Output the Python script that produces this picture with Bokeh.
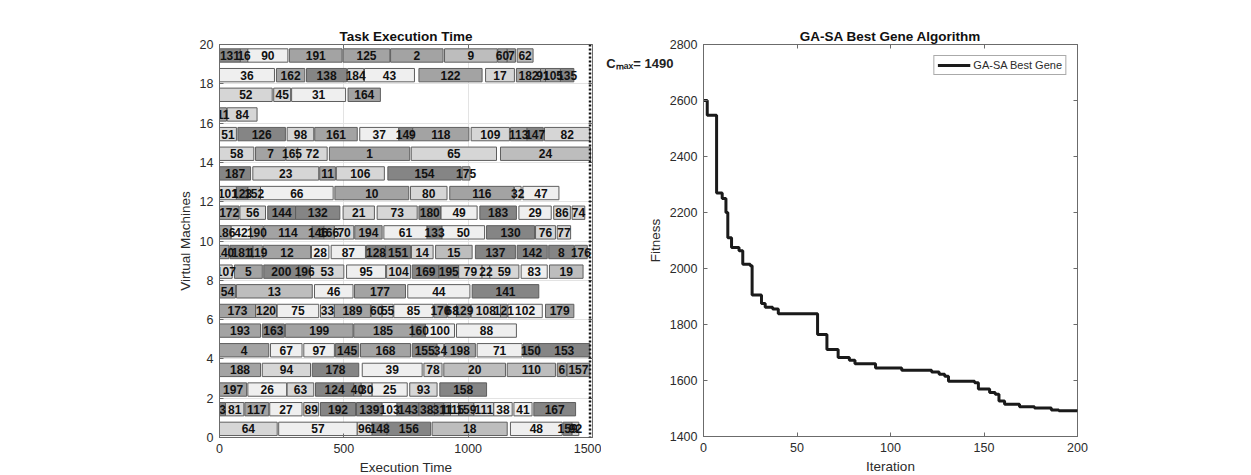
from bokeh.plotting import figure
from bokeh.layouts import row
from bokeh.models import (ColumnDataSource, Span, LinearAxis, Legend, LegendItem,
                          FixedTicker, Range1d)
from bokeh.embed import file_html
from bokeh.resources import INLINE
from bokeh.core.properties import value

FONT = "Liberation Sans"

# ---- Gantt data: (task label, start, end, load class) per virtual machine (VM 1 = bottom row)
vm01 = [("64", 0, 232, 2), ("57", 238, 554, 1), ("96", 554, 614, 2), ("148", 614, 674, 5), ("156", 674, 849, 5),
        ("18", 855, 1157, 3), ("48", 1170, 1378, 1), ("159", 1382, 1418, 5), ("92", 1418, 1445, 2)]
vm02 = [("3", 0, 24, 5), ("81", 24, 98, 2), ("117", 102, 198, 4), ("27", 202, 332, 1), ("89", 339, 399, 2),
        ("192", 406, 547, 5), ("139", 551, 654, 5), ("103", 654, 714, 1), ("143", 714, 802, 5), ("38", 802, 865, 5),
        ("31", 865, 902, 5), ("11", 902, 929, 4), ("115", 929, 962, 2), ("159", 962, 1023, 4), ("111", 1023, 1103, 2),
        ("38", 1103, 1177, 1), ("41", 1184, 1257, 1), ("167", 1264, 1432, 5)]
vm03 = [("197", 0, 109, 4), ("26", 114, 270, 1), ("63", 272, 379, 2), ("124", 386, 540, 5), ("40", 540, 570, 4),
        ("30", 570, 614, 2), ("25", 614, 755, 1), ("93", 765, 875, 2), ("158", 886, 1074, 5)]
vm04 = [("188", 0, 165, 4), ("94", 172, 366, 2), ("178", 373, 560, 5), ("39", 574, 815, 1), ("78", 822, 895, 2),
        ("20", 902, 1150, 3), ("110", 1157, 1351, 3), ("6", 1358, 1395, 4), ("157", 1398, 1489, 4)]
vm05 = [("4", 0, 198, 4), ("67", 205, 332, 1), ("97", 339, 462, 1), ("145", 466, 560, 5), ("168", 567, 768, 4),
        ("155", 775, 875, 5), ("34", 875, 902, 2), ("198", 905, 1029, 4), ("71", 1036, 1217, 1),
        ("150", 1221, 1284, 5), ("153", 1284, 1489, 5)]
vm06 = [("193", 0, 165, 4), ("163", 172, 261, 5), ("199", 265, 537, 4), ("185", 540, 775, 4), ("160", 775, 828, 5),
        ("100", 828, 945, 1), ("88", 953, 1194, 1)]
vm07 = [("173", 0, 145, 4), ("120", 145, 229, 3), ("75", 232, 399, 1), ("33", 406, 462, 2), ("189", 462, 607, 4),
        ("60", 610, 654, 3), ("55", 654, 698, 2), ("85", 701, 859, 1), ("170", 862, 915, 4), ("68", 918, 953, 2),
        ("129", 953, 1009, 4), ("108", 1012, 1130, 2), ("121", 1130, 1157, 4), ("102", 1160, 1298, 1),
        ("179", 1311, 1425, 4)]
vm08 = [("54", 0, 64, 4), ("13", 68, 373, 3), ("46", 382, 537, 1), ("177", 543, 748, 4), ("44", 757, 1007, 1),
        ("141", 1016, 1284, 5)]
vm09 = [("107", 0, 51, 2), ("5", 60, 172, 4), ("200", 178, 319, 5), ("196", 319, 366, 5), ("53", 366, 500, 2),
        ("95", 511, 668, 1), ("104", 672, 768, 2), ("169", 775, 882, 5), ("195", 882, 962, 5), ("79", 962, 1056, 2),
        ("22", 1056, 1087, 2), ("59", 1087, 1204, 2), ("83", 1213, 1318, 1), ("19", 1327, 1462, 3)]
vm10 = [("140", 0, 38, 4), ("181", 42, 135, 5), ("119", 135, 172, 4), ("12", 176, 366, 4), ("28", 370, 440, 1),
        ("87", 449, 587, 1), ("128", 591, 668, 5), ("151", 668, 768, 5), ("14", 772, 859, 2), ("15", 869, 1016, 3),
        ("137", 1029, 1190, 5), ("142", 1197, 1318, 5), ("8", 1324, 1425, 5), ("176", 1428, 1479, 4)]
vm11 = [("186", 0, 47, 4), ("42", 47, 125, 1), ("190", 125, 176, 4), ("114", 178, 373, 4), ("146", 373, 420, 5),
        ("166", 420, 462, 4), ("70", 462, 540, 2), ("194", 544, 654, 4), ("61", 661, 835, 1), ("133", 835, 895, 5),
        ("50", 895, 1066, 1), ("130", 1074, 1267, 5), ("76", 1271, 1351, 2), ("77", 1358, 1412, 2)]
vm12 = [("172", 0, 78, 4), ("56", 82, 185, 2), ("144", 194, 306, 5), ("132", 306, 484, 5), ("21", 497, 623, 2),
        ("73", 634, 795, 2), ("180", 802, 889, 5), ("49", 891, 1036, 1), ("183", 1047, 1194, 5), ("29", 1204, 1334, 1),
        ("86", 1344, 1411, 2), ("74", 1418, 1469, 2)]
vm13 = [("101", 0, 68, 2), ("123", 68, 114, 5), ("152", 114, 165, 3), ("66", 165, 457, 1), ("10", 464, 761, 4),
        ("80", 768, 915, 2), ("116", 926, 1184, 4), ("32", 1186, 1213, 2), ("47", 1220, 1365, 1)]
vm14 = [("187", 0, 125, 5), ("23", 134, 399, 2), ("11", 403, 466, 4), ("106", 470, 663, 2), ("154", 677, 972, 5),
        ("175", 976, 1007, 4)]
vm15 = [("58", 0, 138, 2), ("7", 145, 265, 4), ("165", 268, 315, 3), ("72", 315, 433, 2), ("1", 442, 765, 4),
        ("65", 771, 1114, 2), ("24", 1130, 1492, 3)]
vm16 = [("51", 0, 68, 2), ("126", 74, 265, 5), ("98", 272, 379, 2), ("161", 383, 554, 4), ("37", 564, 721, 1),
        ("149", 721, 777, 5), ("118", 777, 1003, 4), ("109", 1012, 1166, 2), ("113", 1170, 1237, 4),
        ("147", 1237, 1302, 5), ("82", 1307, 1489, 2)]
vm17 = [("11", 0, 28, 4), ("84", 31, 151, 2)]
vm18 = [("52", 0, 212, 2), ("45", 218, 286, 2), ("31", 290, 507, 1), ("164", 517, 647, 4)]
vm19 = [("36", 0, 221, 1), ("162", 229, 343, 4), ("138", 350, 511, 5), ("184", 515, 580, 2), ("43", 583, 784, 1),
        ("122", 802, 1056, 4), ("17", 1070, 1186, 2), ("182", 1194, 1291, 4), ("91", 1291, 1311, 4),
        ("105", 1311, 1371, 4), ("135", 1371, 1425, 5)]
vm20 = [("131", 0, 84, 5), ("16", 84, 114, 4), ("90", 114, 275, 1), ("191", 281, 493, 4), ("125", 497, 685, 4),
        ("2", 688, 899, 4), ("9", 905, 1117, 3), ("60", 1119, 1157, 4), ("7", 1157, 1190, 4), ("62", 1197, 1261, 3)]

cmax = 1490
cmax_text = "C\u2098\u2090\u2093= " + str(cmax)
gantt_xticks = [0, 500, 1000, 1500]
gantt_yticks = [0, 2, 4, 6, 8, 10, 12, 14, 16, 18, 20]

# ---- GA-SA convergence (iteration where the best fitness changes, new best fitness)
ga_iter = [0, 2, 7, 10, 12, 13, 15, 19, 21, 25, 26, 31, 33, 37, 40, 61, 66, 72, 78, 81, 92, 106, 122, 126,
           129, 131, 145, 147, 153, 156, 158, 161, 169, 177, 186, 190, 200]
ga_fit = [2600, 2547, 2270, 2250, 2200, 2110, 2075, 2063, 2015, 2010, 1905, 1875, 1862, 1855, 1838, 1764, 1711,
          1682, 1672, 1660, 1645, 1637, 1630, 1622, 1615, 1597, 1592, 1570, 1557, 1551, 1527, 1515, 1506, 1502,
          1495, 1492, 1490]
ga_xticks = [0, 50, 100, 150, 200]
ga_yticks = [1400, 1600, 1800, 2000, 2200, 2400, 2600, 2800]
cmax_anchor = 2731   # fitness level at which the C_max note sits, left of the plot

# ---- styles
SHADES = {1: "#efefef", 2: "#d6d6d6", 3: "#bdbdbd", 4: "#a3a3a3", 5: "#858585"}
AX = "#6b6b6b"
TXT = "#2b2b2b"

vm_rows = [vm01, vm02, vm03, vm04, vm05, vm06, vm07, vm08, vm09, vm10,
           vm11, vm12, vm13, vm14, vm15, vm16, vm17, vm18, vm19, vm20]
labs, lefts, rights, ys, mids, cols = [], [], [], [], [], []
for vm, tasks in enumerate(vm_rows, start=1):
    for lab, s, e, sh in tasks:
        labs.append(lab)
        lefts.append(s)
        rights.append(e)
        ys.append(vm - 0.56)
        mids.append((s + e) / 2)
        cols.append(SHADES[sh])
src = ColumnDataSource(dict(label=labs, left=lefts, right=rights, y=ys, mid=mids, color=cols))


def mirror_axis(ticks):
    return LinearAxis(ticker=FixedTicker(ticks=ticks), major_label_text_font_size="1px",
                      major_label_text_color=None, major_tick_in=4, major_tick_out=0,
                      minor_tick_line_color=None, axis_line_color=None,
                      major_tick_line_color=AX, major_label_standoff=0)


def style(p, xt, yt, xlabel, ylabel):
    p.background_fill_color = "white"
    p.border_fill_color = "white"
    p.outline_line_color = AX
    p.outline_line_width = 1
    p.title.align = "center"
    p.title.text_font = FONT
    p.title.text_font_size = "13.5px"
    p.title.text_font_style = "bold"
    p.title.text_color = "#111111"
    p.title.standoff = 2
    p.xaxis.ticker = FixedTicker(ticks=xt)
    p.yaxis.ticker = FixedTicker(ticks=yt)
    for ax, lab in ((p.xaxis[0], xlabel), (p.yaxis[0], ylabel)):
        ax.axis_label = lab
        ax.axis_label_text_font = FONT
        ax.axis_label_text_font_size = "13.5px"
        ax.axis_label_text_font_style = "normal"
        ax.axis_label_text_color = TXT
        ax.major_label_text_font = FONT
        ax.major_label_text_font_size = "12.5px"
        ax.major_label_text_color = TXT
        ax.axis_line_color = AX
        ax.major_tick_line_color = AX
        ax.major_tick_in = 4
        ax.major_tick_out = 0
        ax.minor_tick_line_color = None
        ax.major_label_standoff = 6
        ax.axis_label_standoff = 4
    p.add_layout(mirror_axis(xt), "above")
    p.add_layout(mirror_axis(yt), "right")


# ---- left: Gantt chart
p1 = figure(frame_width=373, frame_height=393, x_range=Range1d(0, 1500), y_range=Range1d(0, 20),
            output_backend="svg", toolbar_location=None, title="Task Execution Time",
            min_border_left=219, min_border_right=9, min_border_top=44, min_border_bottom=38)
style(p1, gantt_xticks, gantt_yticks, "Execution Time", "Virtual Machines")
p1.xgrid.grid_line_color = "#e3e3e3"
p1.ygrid.grid_line_color = "#e3e3e3"
p1.hbar(y="y", left="left", right="right", height=0.68, fill_color="color", line_color="#5e5e5e",
        line_width=1, source=src)
p1.text(x="mid", y="y", text="label", text_align="center", text_baseline="middle", text_font=value(FONT),
        text_font_size="12px", text_font_style="bold", text_color="#111111", source=src)
p1.add_layout(Span(location=cmax, dimension="height", line_color="#111111", line_width=2.5, line_dash="2 2"))

# ---- right: convergence
p2 = figure(frame_width=374, frame_height=392, x_range=Range1d(0, 200), y_range=Range1d(1400, 2800),
            output_backend="svg", toolbar_location=None, title="GA-SA Best Gene Algorithm",
            min_border_left=102, min_border_right=20, min_border_top=44, min_border_bottom=39)
style(p2, ga_xticks, ga_yticks, "Iteration", "Fitness")
p2.grid.grid_line_color = None
r = p2.step(ga_iter, ga_fit, mode="after", line_color="#1a1a1a", line_width=3)
leg = Legend(items=[LegendItem(label="GA-SA Best Gene", renderers=[r])], location="top_right",
             label_text_font=FONT, label_text_font_size="11px", label_text_color=TXT,
             glyph_width=33, glyph_height=12, label_height=12, padding=3, margin=11, spacing=0,
             label_standoff=3, border_line_color="#555555", border_line_width=1)
p2.add_layout(leg)

# C_max note: an outer, line-less left axis carrying a single labelled tick
cmax_axis = LinearAxis(ticker=FixedTicker(ticks=[cmax_anchor]),
                       major_label_overrides={cmax_anchor: cmax_text},
                       major_label_text_font=FONT, major_label_text_font_size="13px",
                       major_label_text_font_style="bold", major_label_text_color="#222222",
                       major_label_standoff=-35, major_tick_line_color=None, minor_tick_line_color=None,
                       axis_line_color=None)
p2.add_layout(cmax_axis, "left")

layout = row(p1, p2)
open("out.html", "w").write(file_html(layout, INLINE))
